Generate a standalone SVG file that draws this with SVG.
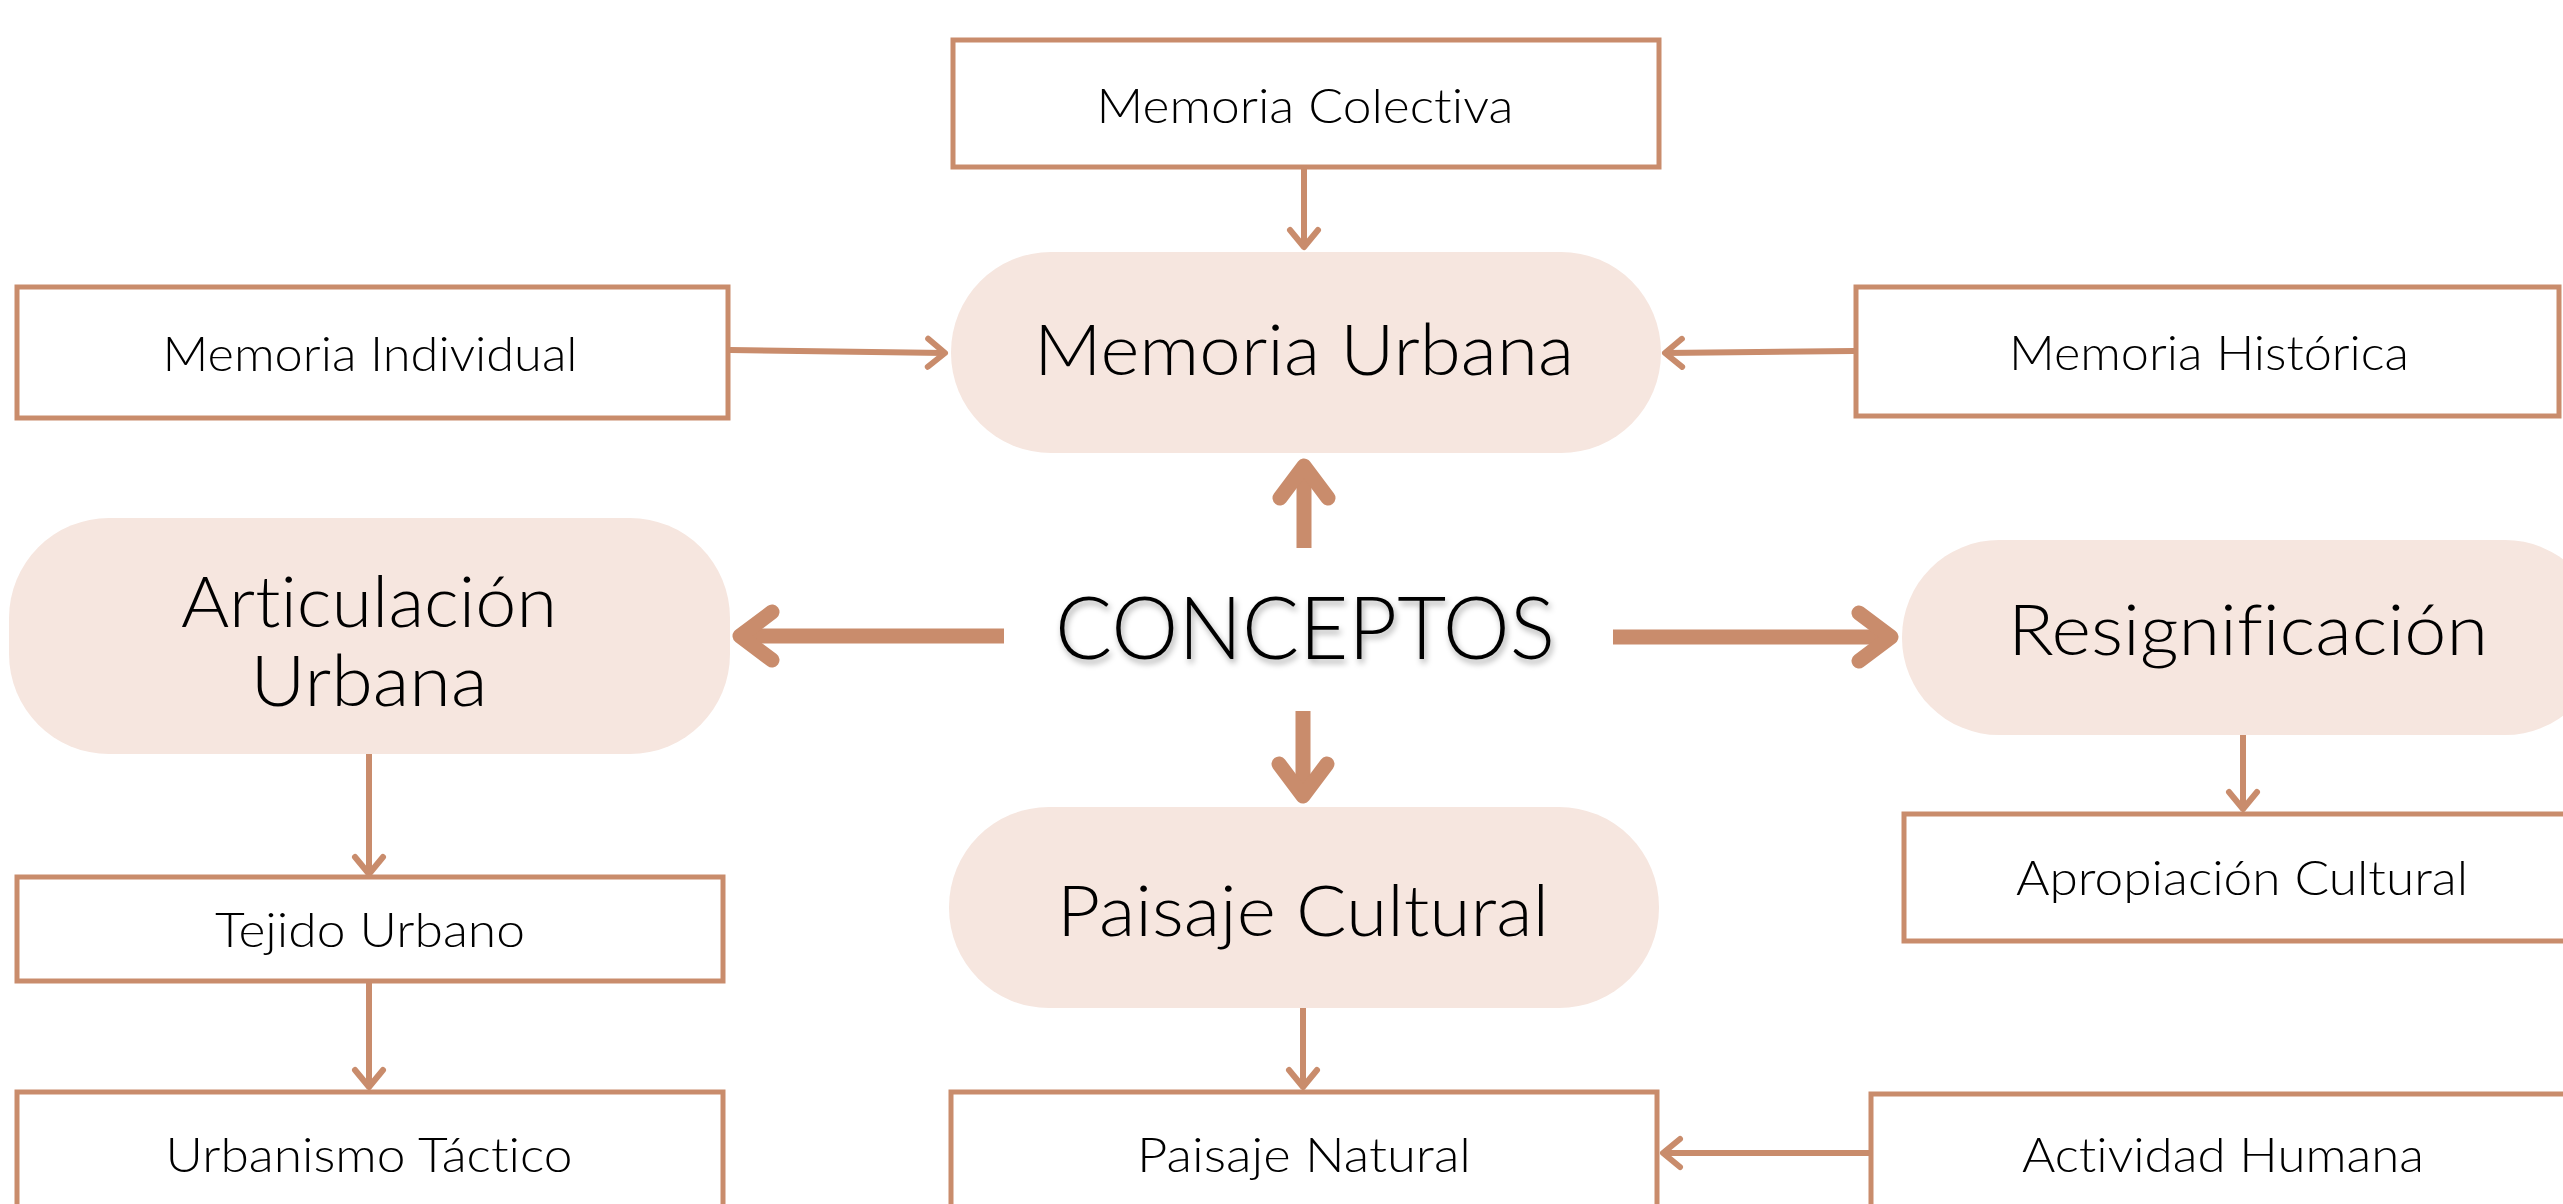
<svg xmlns="http://www.w3.org/2000/svg" width="2563" height="1204" viewBox="0 0 2563 1204">
<style>
.box{fill:#fff;stroke:#C98C6C;stroke-width:5}
.pill{fill:#F6E6DF}
.t{font-family:"Lato","Liberation Sans",sans-serif;font-weight:300;fill:#000;text-anchor:middle;font-variant-ligatures:none;font-feature-settings:"liga" 0,"clig" 0,"dlig" 0}
.s{font-size:48px}
.b{font-size:70px}
.c{font-size:86px}
.thin{fill:none;stroke:#C98C6C;stroke-width:6;marker-end:url(#ah)}
.thick{fill:none;stroke:#C98C6C;stroke-width:15;marker-end:url(#ahb)}
</style>
<defs>
<marker id="ah" viewBox="-24 -20 28 40" refX="0" refY="0" markerWidth="28" markerHeight="40" markerUnits="userSpaceOnUse" orient="auto">
<path d="M-17,-14 L0,0 L-17,14" fill="none" stroke="#C98C6C" stroke-width="6" stroke-linecap="round" stroke-linejoin="round"/>
</marker>
<marker id="ahb" viewBox="-42 -34 52 68" refX="0" refY="0" markerWidth="52" markerHeight="68" markerUnits="userSpaceOnUse" orient="auto">
<path d="M-32,-24 L0,0 L-32,24" fill="none" stroke="#C98C6C" stroke-width="15" stroke-linecap="round" stroke-linejoin="round"/>
</marker>
<filter id="sh" x="-10%" y="-30%" width="120%" height="160%">
<feDropShadow dx="2" dy="4" stdDeviation="3" flood-color="#000" flood-opacity="0.35"/>
</filter>
</defs>
<rect width="2563" height="1204" fill="#fff"/>

<g id="connectors">
<path class="thin" d="M1304,169 L1304,247"/>
<path class="thin" d="M730,350 L945,353"/>
<path class="thin" d="M1854,351 L1665,353"/>
<path class="thin" d="M369,754 L369,874"/>
<path class="thin" d="M369,983 L369,1087"/>
<path class="thin" d="M1303,1008 L1303,1087"/>
<path class="thin" d="M1869,1153 L1663,1153"/>
<path class="thin" d="M2243,735 L2243,809"/>
<path class="thick" d="M1304,548 L1304,466"/>
<path class="thick" d="M1004,636 L740,636"/>
<path class="thick" d="M1613,637 L1891,637"/>
<path class="thick" d="M1303,711 L1303,796"/>
</g>

<g id="memoria-colectiva">
<rect class="box" x="953" y="40" width="706" height="127"/>
<text class="t s" x="1305" y="123" textLength="417" lengthAdjust="spacingAndGlyphs">Memoria Colectiva</text>
</g>
<g id="memoria-urbana">
<rect class="pill" x="951" y="252" width="710" height="201" rx="100" ry="100"/>
<text class="t b" x="1304" y="375" textLength="540" lengthAdjust="spacingAndGlyphs">Memoria Urbana</text>
</g>
<g id="memoria-individual">
<rect class="box" x="17" y="287" width="711" height="131"/>
<text class="t s" x="370" y="371" textLength="415" lengthAdjust="spacingAndGlyphs">Memoria Individual</text>
</g>
<g id="memoria-historica">
<rect class="box" x="1856" y="287" width="703" height="129"/>
<text class="t s" x="2209" y="370" textLength="400" lengthAdjust="spacingAndGlyphs">Memoria Histórica</text>
</g>
<g id="conceptos">
<text class="t c" x="1305" y="659" textLength="500" lengthAdjust="spacingAndGlyphs" filter="url(#sh)">CONCEPTOS</text>
</g>
<g id="articulacion-urbana">
<rect class="pill" x="9" y="518" width="721" height="236" rx="100" ry="100"/>
<text class="t b" x="369" y="627" textLength="376" lengthAdjust="spacingAndGlyphs">Articulación</text>
<text class="t b" x="369" y="706" textLength="237" lengthAdjust="spacingAndGlyphs">Urbana</text>
</g>
<g id="resignificacion">
<rect class="pill" x="1902" y="540" width="700" height="195" rx="97" ry="97"/>
<text class="t b" x="2248" y="655" textLength="480" lengthAdjust="spacingAndGlyphs">Resignificación</text>
</g>
<g id="apropiacion-cultural">
<rect class="box" x="1904" y="814" width="700" height="127"/>
<text class="t s" x="2242" y="895" textLength="452" lengthAdjust="spacingAndGlyphs">Apropiación Cultural</text>
</g>
<g id="paisaje-cultural">
<rect class="pill" x="949" y="807" width="710" height="201" rx="100" ry="100"/>
<text class="t b" x="1303" y="936" textLength="492" lengthAdjust="spacingAndGlyphs">Paisaje Cultural</text>
</g>
<g id="tejido-urbano">
<rect class="box" x="17" y="877" width="706" height="104"/>
<text class="t s" x="370" y="947" textLength="310" lengthAdjust="spacingAndGlyphs">Tejido Urbano</text>
</g>
<g id="urbanismo-tactico">
<rect class="box" x="17" y="1092" width="706" height="150"/>
<text class="t s" x="369" y="1172" textLength="407" lengthAdjust="spacingAndGlyphs">Urbanismo Táctico</text>
</g>
<g id="paisaje-natural">
<rect class="box" x="951" y="1092" width="706" height="150"/>
<text class="t s" x="1304" y="1172" textLength="334" lengthAdjust="spacingAndGlyphs">Paisaje Natural</text>
</g>
<g id="actividad-humana">
<rect class="box" x="1871" y="1094" width="700" height="150"/>
<text class="t s" x="2223" y="1172" textLength="402" lengthAdjust="spacingAndGlyphs">Actividad Humana</text>
</g>
</svg>
